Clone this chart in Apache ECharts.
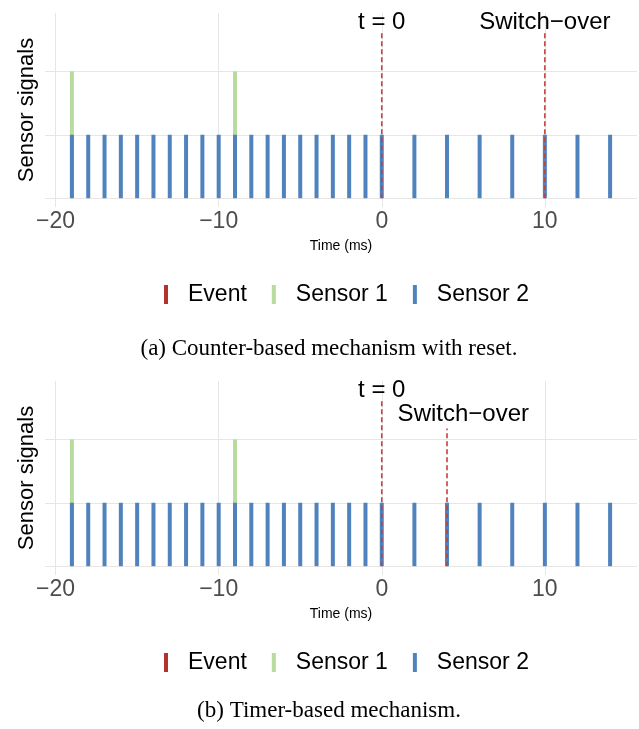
<!DOCTYPE html>
<html><head><meta charset="utf-8">
<script src="https://cdn.jsdelivr.net/npm/echarts@6/dist/echarts.min.js"></script>
<style>html,body{margin:0;padding:0;background:#fff}#c{width:639px;height:729px}</style>
</head><body><div id="c"></div>
<script>
// ---- data ----
const sensor2Times = [-19,-18,-17,-16,-15,-14,-13,-12,-11,-10,-9,-8,-7,-6,-5,-4,-3,-2,-1,0,2,4,6,8,10,12,14];
const sensor2Level = 1;
const sensor1Times = [-19,-9];
const sensor1Level = 2;
const eventTimesA = [0,10];
const eventTopsA = [2.6,2.6];
const eventTimesB = [0,4];
const eventTopsB = [2.6,2.17];
const labelTextsA = ['t = 0','Switch\u2212over'];
const labelXA = [0,10];
const labelYA = [2.78,2.78];
const labelTextsB = ['t = 0','Switch\u2212over'];
const labelXB = [0,5];
const labelYB = [2.78,2.4];
const xTicks = [-20,-10,0,10];
const yTicks = [0,1,2];
const legendNames = ['Event','Sensor 1','Sensor 2'];
const captions = ['(a) Counter-based mechanism with reset.','(b) Timer-based mechanism.'];

// ---- style ----
const RED = '#b5322b', DASH = '#c0433c', GREEN = '#b8dc9f', BLUE = '#5082be';
const SANS = 'Liberation Sans';
const GRIDC = '#e6e6e6';
const gridTops = [13, 381];
const legendTops = [283, 651];
const captionYs = [349, 711];
const GH = 194;

const chart = echarts.init(document.getElementById('c'), null, {renderer:'canvas'});

function barRender(color){
  return function(params, api){
    const p0 = api.coord([api.value(0), api.value(1)]);
    const p1 = api.coord([api.value(0), api.value(2)]);
    return {type:'rect', shape:{x:p0[0]-2, y:p1[1], width:4, height:p0[1]-p1[1]}, style:{fill:color}};
  };
}
function lineRender(params, api){
  const p0 = api.coord([api.value(0), api.value(1)]);
  const p1 = api.coord([api.value(0), api.value(2)]);
  return {type:'line', shape:{x1:p0[0], y1:p0[1], x2:p1[0], y2:p1[1]},
    style:{stroke:DASH, lineWidth:1.6, lineDash:[5,3]}};
}
function textRender(texts){
  return function(params, api){
    const p = api.coord([api.value(0), api.value(1)]);
    return {type:'text', x:p[0], y:p[1], style:{text:texts[params.dataIndex], fill:'#000',
      font:'24px "'+SANS+'"', align:'center', verticalAlign:'middle'}};
  };
}

const xAxes = [], yAxes = [], gridOpts = [], series = [], legends = [], graphics = [];
const panels = [
  {ev:eventTimesA, top:eventTopsA, lt:labelTextsA, lx:labelXA, ly:labelYA},
  {ev:eventTimesB, top:eventTopsB, lt:labelTextsB, lx:labelXB, ly:labelYB}
];
panels.forEach((p, i) => {
  gridOpts.push({left:45, width:592, top:gridTops[i], height:GH, containLabel:false});
  xAxes.push({type:'value', gridIndex:i, min:-20.65, max:15.65,
    axisLine:{show:false}, axisTick:{show:false, customValues:xTicks},
    splitLine:{show:true, lineStyle:{color:GRIDC, width:1}},
    axisLabel:{show:true, customValues:xTicks, color:'#4d4d4d', fontSize:23, fontFamily:SANS, margin:3,
      formatter: v => (v < 0 ? '\u2212' + Math.abs(v) : String(v))},
    name:'Time (ms)', nameLocation:'middle', nameGap:32,
    nameTextStyle:{color:'#000', fontSize:14, fontFamily:SANS}});
  yAxes.push({type:'value', gridIndex:i, min:-0.139, max:2.92,
    axisLine:{show:false}, axisTick:{show:false, customValues:yTicks}, axisLabel:{show:false, customValues:yTicks},
    splitLine:{show:true, lineStyle:{color:GRIDC, width:1}},
    name:'Sensor signals', nameLocation:'middle', nameGap:7,
    nameTextStyle:{color:'#000', fontSize:22, fontFamily:SANS}});
  series.push({type:'custom', name:'Sensor 1', xAxisIndex:i, yAxisIndex:i, itemStyle:{color:GREEN},
    renderItem:barRender(GREEN), data:sensor1Times.map(t => [t, 0, sensor1Level]), z:2});
  series.push({type:'custom', name:'Sensor 2', xAxisIndex:i, yAxisIndex:i, itemStyle:{color:BLUE},
    renderItem:barRender(BLUE), data:sensor2Times.map(t => [t, 0, sensor2Level]), z:3});
  series.push({type:'custom', name:'Event', xAxisIndex:i, yAxisIndex:i, itemStyle:{color:RED},
    renderItem:lineRender, data:p.ev.map((t, k) => [t, 0, p.top[k]]), z:4});
  series.push({type:'custom', name:'labels'+i, xAxisIndex:i, yAxisIndex:i,
    renderItem:textRender(p.lt), data:p.lx.map((x, k) => [x, p.ly[k]]), z:5, clip:false});
  legends.push({data:legendNames, left:164, top:legendTops[i], padding:0, icon:'rect', itemWidth:4, itemHeight:19,
    itemGap:25, selectedMode:false,
    textStyle:{color:'#000', fontSize:23, fontFamily:SANS, padding:[0,0,0,15]}});
  graphics.push({type:'text', x:329, y:captionYs[i], style:{text:captions[i], fill:'#000',
    font:'23px "Liberation Serif"', align:'center', verticalAlign:'middle'}});
});

chart.setOption({
  animation:false,
  backgroundColor:'#fff',
  grid:gridOpts, xAxis:xAxes, yAxis:yAxes, series:series, legend:legends, graphic:graphics
});
</script></body></html>
